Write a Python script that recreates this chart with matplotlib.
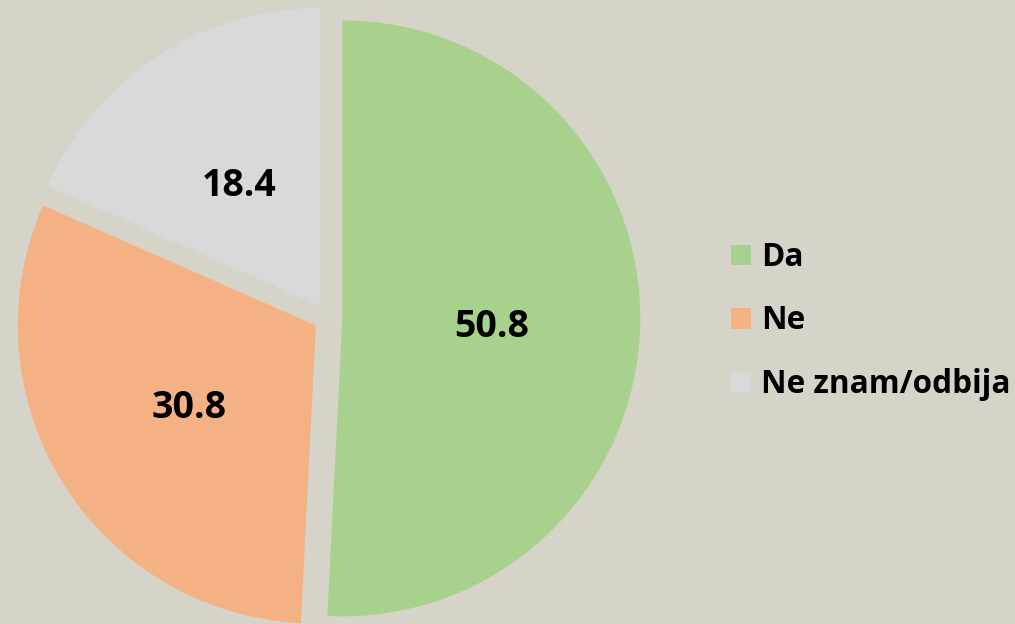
import matplotlib
matplotlib.use("Agg")
import matplotlib.pyplot as plt
from matplotlib.transforms import ScaledTranslation

categories = ["Da", "Ne", "Ne znam/odbija"]
values = [50.8, 30.8, 18.4]
colors = ["#a9d18e", "#f4b183", "#d9d9d9"]

BG = "#d6d3c9"
plt.rcParams['font.family'] = ['Open Sans', 'DejaVu Sans']

fig = plt.figure(figsize=(10.15, 6.24), dpi=100, facecolor=BG)
ax = fig.add_axes([0, 0, 1, 1])
ax.set_facecolor(BG)

R = 298
wedges, texts, autotexts = ax.pie(
    values, colors=colors, startangle=90, counterclock=False,
    explode=[0.048 * R] * len(values), radius=R, center=(328, 306),
    autopct='%.1f', pctdistance=0.5, frame=False,
    wedgeprops=dict(linewidth=0),
    textprops=dict(fontsize=27, fontweight='bold', color='black'))

shift = ScaledTranslation(0, -4.5 / 100, fig.dpi_scale_trans)
for t in autotexts:
    t.set_transform(ax.transData + shift)

ax.set_xlim(0, 1015)
ax.set_ylim(0, 624)
ax.set_aspect('equal')
ax.axis('off')

leg = ax.legend(wedges, categories, loc='center left',
                bbox_to_anchor=(731 / 1015, 1 - 321 / 624),
                frameon=False,
                prop=dict(weight='bold', size=22.7),
                handlelength=0.63, handleheight=0.63, handletextpad=0.32,
                labelspacing=0.97, borderpad=0, borderaxespad=0)

fig.savefig("out.png", dpi=100, facecolor=BG)
